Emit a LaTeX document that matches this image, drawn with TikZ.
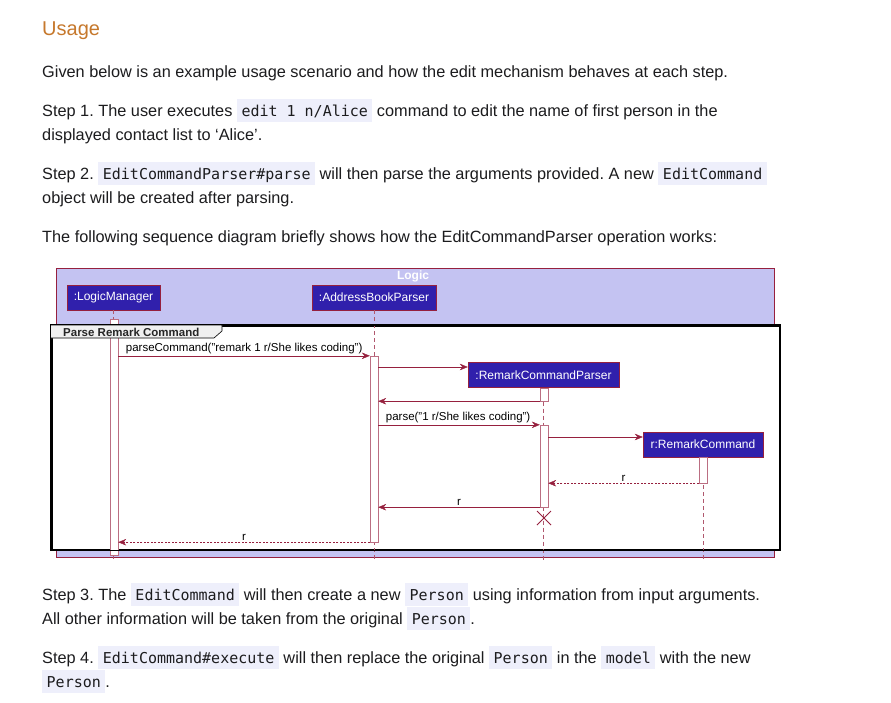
\documentclass[tikz,border=0pt]{standalone}
\usepackage{fontspec}
\setmainfont{Liberation Sans}
\setmonofont{DejaVu Sans Mono}
\usetikzlibrary{arrows.meta,positioning,shapes.misc,shadows}
\frenchspacing

\definecolor{headorange}{RGB}{198,120,44}
\definecolor{bodytext}{RGB}{28,28,30}
\definecolor{codebg}{RGB}{238,239,251}
\definecolor{umlred}{RGB}{150,32,62}
\definecolor{logicfill}{RGB}{196,195,242}
\definecolor{partfill}{RGB}{48,32,172}

\newcommand{\code}[1]{{\setlength{\fboxsep}{0pt}\colorbox{codebg}{\hspace{4.5pt}\rule[-6pt]{0pt}{23pt}\ttfamily\fontsize{15}{18}\selectfont #1\hspace{4.5pt}}}}

\begin{document}
\begin{tikzpicture}[x=1pt, y=-1pt,
	txt/.style={anchor=base west, inner sep=0pt, font=\fontsize{16.3}{24}\selectfont, text=bodytext},
	part/.style={rectangle, draw=umlred, fill=partfill, text=white, font=\fontsize{12}{14}\selectfont, minimum height=25pt, inner xsep=4pt},
	actbar/.style={rectangle, draw=umlred!65, fill=white, minimum width=8pt, inner sep=0pt},
	lifeline/.style={umlred!75, dash pattern=on 4pt off 3pt},
	msg/.style={-{Stealth[length=8pt,width=6.5pt]}, umlred},
	ret/.style={msg, dash pattern=on 2pt off 1.5pt},
	lbl/.style={font=\fontsize{11.5}{13}\selectfont, text=black, inner sep=1.5pt},
	]
	\fill[white] (0,0) rectangle (891,702);
	\useasboundingbox (0,0) rectangle (891,702);
	
	% Heading and text above
	\node[font=\fontsize{20}{24}\selectfont, text=headorange, anchor=base west, inner sep=0pt] (usage) at (42,35) {Usage};
	\node[txt] (intro) at (42,77) {Given below is an example usage scenario and how the edit mechanism behaves at each step.};
	\node[txt] (step1a) at (42,116) {Step 1. The user executes \code{edit 1 n/Alice} command to edit the name of first person in the};
	\node[txt] (step1b) at (42,140) {displayed contact list to ‘Alice’.};
	\node[txt] (step2a) at (42,179) {Step 2. \code{EditCommandParser\#parse} will then parse the arguments provided. A new \code{EditCommand}};
	\node[txt] (step2b) at (42,203) {object will be created after parsing.};
	\node[txt] (seqintro) at (42,242) {The following sequence diagram briefly shows how the EditCommandParser operation works:};
	
	% Logic box
	\node[draw=umlred, fill=logicfill, minimum width=718pt, minimum height=289pt, anchor=north west, inner sep=0pt] (logic) at (56,268) {};
	\node[font=\bfseries\fontsize{12}{14}\selectfont, text=white] (logictitle) at (413,276) {Logic};
	
	% Frame
	\node[draw=black, line width=1.5pt, fill=white, minimum width=728pt, minimum height=224pt, anchor=north west, inner sep=0pt,
	drop shadow={shadow xshift=1.5pt, shadow yshift=-1.5pt, fill=black!70, opacity=1}] (frame) at (51,325) {};
	
	% Participants
	\node[part, minimum width=93pt] (lm) at (113.5,297.5) {:LogicManager};
	\node[part, minimum width=124pt] (abp) at (374,297.5) {:AddressBookParser};
	\node[part, minimum width=151pt] (rcp) at (543.5,375) {:RemarkCommandParser};
	\node[part, minimum width=120pt] (rc) at (703,444.5) {r:RemarkCommand};
	
	% Lifelines
	\draw[lifeline] (lm.south) -- (lm.south |- 0,561);
	\draw[lifeline] (abp.south) -- (abp.south |- 0,561);
	\draw[lifeline] (rcp.south) -- (rcp.south |- 0,561);
	\draw[lifeline] (rc.south) -- (rc.south |- 0,561);
	
	% Activations
	\node[actbar, minimum height=236pt] (lmact) at (114,437) {};
	\node[actbar, minimum height=186pt] (abpact) at (374,449) {};
	\node[actbar, minimum height=13pt] (rcpact1) at (544,394.5) {};
	\node[actbar, minimum height=82pt] (rcpact2) at (544,466) {};
	\node[actbar, minimum height=26pt] (rcact) at (703,470) {};
	\node[cross out, draw=umlred, line width=1pt, minimum size=13pt, inner sep=0pt] (rcpx) at (544,518) {};
	
	% Frame outline and tab over the bars
	\draw[line width=1.5pt] (frame.north west) rectangle (frame.south east);
	\draw[fill=gray!12, line width=0.6pt] (frame.north west) -- ++(171,0) -- ++(0,6) -- ++(-8,7) -- ++(-163,0);
	\node[font=\bfseries\fontsize{11.5}{13}\selectfont, text=black!85, anchor=west, inner sep=0pt] (frametitle) at (63,332) {Parse Remark Command};
	
	% Messages
	\coordinate (row2) at (0,367);
	\coordinate (row5) at (0,437);
	\draw[msg] (lmact.east |- abpact.north) -- (abpact.north west)
	node[lbl, pos=0, anchor=south west, xshift=6pt] {parseCommand("remark 1 r/She likes coding")};
	\draw[msg] (abpact.east |- row2) -- (rcp.west |- row2);
	\draw[msg] (rcpact1.south west) -- (abpact.east |- rcpact1.south);
	\draw[msg] (abpact.east |- rcpact2.north) -- (rcpact2.north west)
	node[lbl, pos=0, anchor=south west, xshift=6pt] {parse("1 r/She likes coding")};
	\draw[msg] (rcpact2.east |- row5) -- (rc.west |- row5);
	\draw[ret] (rcact.south west) -- (rcpact2.east |- rcact.south) node[lbl, midway, above] {r};
	\draw[msg] (rcpact2.south west) -- (abpact.east |- rcpact2.south) node[lbl, midway, above] {r};
	\draw[ret] (abpact.south west) -- (lmact.east |- abpact.south) node[lbl, midway, above] {r};
	
	% Text below
	\node[txt] (step3a) at (42,600) {Step 3. The \code{EditCommand} will then create a new \code{Person} using information from input arguments.};
	\node[txt] (step3b) at (42,624) {All other information will be taken from the original \code{Person}.};
	\node[txt] (step4a) at (42,663) {Step 4. \code{EditCommand\#execute} will then replace the original \code{Person} in the \code{model} with the new};
	\node[txt] (step4b) at (42,687) {\code{Person}.};
\end{tikzpicture}
\end{document}
